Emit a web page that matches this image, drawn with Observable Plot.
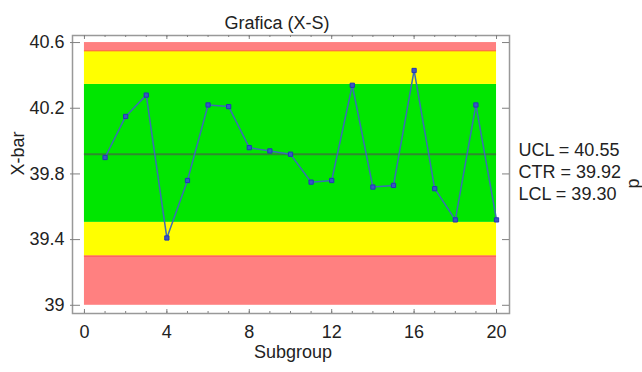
<!DOCTYPE html>
<html>
<head>
<meta charset="utf-8">
<script src="https://cdn.jsdelivr.net/npm/d3@7"></script>
<script src="https://cdn.jsdelivr.net/npm/@observablehq/plot@0.6"></script>
<style>
  html, body { margin: 0; padding: 0; background: #fff; }
  svg { display: block; }
</style>
</head>
<body>
<div id="chart"></div>
<script>
// ---- data ----
const subgroups = [1,2,3,4,5,6,7,8,9,10,11,12,13,14,15,16,17,18,19,20];
const xbar = [39.90, 40.15, 40.28, 39.41, 39.76, 40.22, 40.21, 39.96, 39.94, 39.92,
              39.75, 39.76, 40.34, 39.72, 39.73, 40.43, 39.71, 39.52, 40.22, 39.52];
const limitNames = ["UCL", "CTR", "LCL"];
const limitValues = [40.55, 39.92, 39.30];
const zoneLow  = [39.00, 39.30, 39.505, 40.345, 40.55];
const zoneHigh = [39.30, 39.505, 40.345, 40.55, 40.60];
const zoneFill = ["#ff8080", "#ffff00", "#00e600", "#ffff00", "#ff8080"];
const xTicks = [0, 4, 8, 12, 16, 20];
const xMinorTicks = d3.range(0, 21);
const yTicks = [39, 39.4, 39.8, 40.2, 40.6];
const xRange = [0, 20];

const points = subgroups.map((s, i) => ({s, v: xbar[i]}));
const zones = zoneLow.map((lo, i) => ({lo, hi: zoneHigh[i], fill: zoneFill[i]}));
const [ucl, ctr, lcl] = limitValues;

const font = "'Liberation Sans', Arial, sans-serif";
const fs = 18;
const frameW = 437, frameH = 278;
const tickColor = "#808080";
const textColor = "#222";

const chart = Plot.plot({
  width: 642,
  height: 372,
  marginLeft: 72,
  marginRight: 133,
  marginTop: 35,
  marginBottom: 59,
  style: {fontFamily: font, fontSize: fs + "px", color: textColor, background: "#fff"},
  x: {domain: [-0.58, 20.63]},
  y: {domain: [38.95, 40.643]},
  marks: [
    Plot.rect(zones, {x1: xRange[0], x2: xRange[1], y1: "lo", y2: "hi", fill: "fill"}),
    Plot.ruleY([ucl, lcl], {x1: xRange[0], x2: xRange[1], stroke: "#ff4a4a", strokeWidth: 1}),
    Plot.ruleY([ctr], {x1: xRange[0], x2: xRange[1], stroke: "#2e8b2e", strokeWidth: 2}),
    Plot.line(points, {x: "s", y: "v", stroke: "#3a6db5", strokeWidth: 1.5}),
    Plot.dot(points, {x: "s", y: "v", symbol: "square", r: 2.4, stroke: "#2236b8", fill: "#3a55c4", strokeWidth: 1}),
    Plot.frame({stroke: "#999", strokeWidth: 1.5}),
    // inward ticks
    Plot.ruleX(xMinorTicks, {x: d => d, insetTop: frameH - 2, stroke: tickColor}),
    Plot.ruleX(xTicks, {x: d => d, insetTop: frameH - 4, stroke: tickColor}),
    Plot.ruleX(xMinorTicks, {x: d => d, insetBottom: frameH - 2, stroke: tickColor}),
    Plot.ruleX(xTicks, {x: d => d, insetBottom: frameH - 4, stroke: tickColor}),
    Plot.ruleY(yTicks, {y: d => d, insetRight: frameW - 8, insetLeft: -2, stroke: tickColor}),
    Plot.ruleY(yTicks, {y: d => d, insetLeft: frameW - 7, stroke: tickColor}),
    Plot.axisX(xTicks, {tickSize: 0, tickPadding: 12, fontSize: fs, fill: textColor, label: null}),
    Plot.axisY(yTicks, {tickSize: 0, tickPadding: 8, fontSize: fs, fill: textColor, label: null, tickFormat: d => String(d)}),
    // titles
    Plot.text(["Grafica (X-S)"], {frameAnchor: "top", dx: -14, dy: -19, fontSize: fs, fill: textColor}),
    Plot.text(["Subgroup"], {frameAnchor: "bottom", dx: 2, dy: 44, fontSize: fs, fill: textColor}),
    Plot.text(["X-bar"], {frameAnchor: "left", dx: -54, dy: 1, rotate: -90, fontSize: fs, fill: textColor}),
    Plot.text([limitNames.map((n, i) => `${n} = ${limitValues[i].toFixed(2)}`).join("\n")],
      {frameAnchor: "right", textAnchor: "start", dx: 9, dy: -4, lineHeight: 22 / fs, fontSize: fs, fill: textColor}),
    Plot.text(["p"], {frameAnchor: "right", dx: 124, dy: 4, rotate: -90, fontSize: fs, fill: textColor})
  ]
});
document.getElementById("chart").appendChild(chart);
</script>
</body>
</html>
